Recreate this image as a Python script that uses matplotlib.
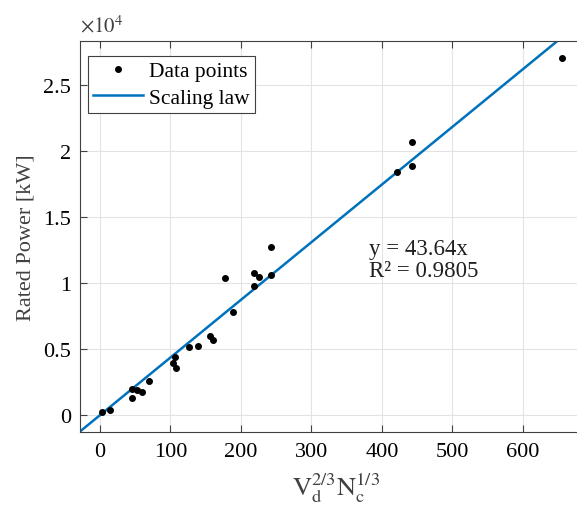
import numpy as np
import matplotlib.pyplot as plt
from matplotlib.ticker import FuncFormatter

plt.rcParams['font.family'] = ['Liberation Serif', 'DejaVu Serif']
plt.rcParams['mathtext.fontset'] = 'stix'

# valores
vd_nc = np.array([3, 14, 45, 53, 45, 60, 70, 106, 104, 108, 126, 139, 156, 161,
                  178, 189, 219, 226, 219, 243, 243, 422, 443, 443, 656])
potencia = np.array([230, 400, 1970, 1920, 1270, 1720, 2580, 4420, 3940, 3560,
                     5130, 5250, 6010, 5700, 10380, 7780, 10780, 10480, 9800,
                     12750, 10600, 18390, 20700, 18880, 27050])
coef = 43.64
r2 = 0.9805

yticks = [0, 5000, 10000, 15000, 20000, 25000]
xticks = [0, 100, 200, 300, 400, 500, 600]

fig = plt.figure(figsize=(5.77, 5.06), dpi=100)
ax = fig.add_axes([0.138, 0.144, 0.890, 0.773])

xs = np.array([-29, 700])
ax.plot(vd_nc, potencia, 'k.', markersize=8, label='Data points', zorder=3)
ax.plot(xs, coef * xs, color='#0072BD', linewidth=1.8, label='Scaling law', zorder=2)

ax.set_xlim(-29, 700)
ax.set_ylim(-1290, 28330)
ax.set_xticks(xticks)
ax.set_yticks(yticks)
ax.yaxis.set_major_formatter(FuncFormatter(lambda v, p: '%g' % (v / 1e4)))
ax.tick_params(direction='in', top=True, right=False, labelsize=16,
               color='#404040', length=5)
ax.tick_params(axis='x', pad=7)
ax.tick_params(axis='y', pad=6)
ax.grid(True, color='#e3e3e3', linewidth=0.8)
ax.set_axisbelow(True)
ax.spines['right'].set_visible(False)
for s in ax.spines.values():
    s.set_color('#404040')

ax.text(0.0, 1.012, r'$\times 10^{4}$', transform=ax.transAxes, fontsize=15,
        ha='left', va='bottom', color='#404040')

ax.set_ylabel('Rated Power [kW]', fontsize=16, color='#404040', labelpad=6)
ax.set_xlabel(r'$\mathrm{V}_\mathrm{d}^{2/3}\mathrm{N}_\mathrm{c}^{1/3}$',
              fontsize=19, color='#404040', labelpad=7)

ax.text(382, 12580, 'y = %.2fx' % coef, fontsize=16.5, color='#202020', va='center')
ax.text(382, 10960, 'R² = %.4f' % r2, fontsize=16.5, color='#202020', va='center')

leg = ax.legend(loc='upper left', bbox_to_anchor=(0.0156, 0.9616), borderaxespad=0,
                fontsize=15.5, fancybox=False, framealpha=1,
                edgecolor='#404040', handlelength=2.3, handletextpad=0.3,
                borderpad=0.25, labelspacing=0.3)
leg.get_frame().set_linewidth(0.8)

fig.savefig('out.png', dpi=100)
